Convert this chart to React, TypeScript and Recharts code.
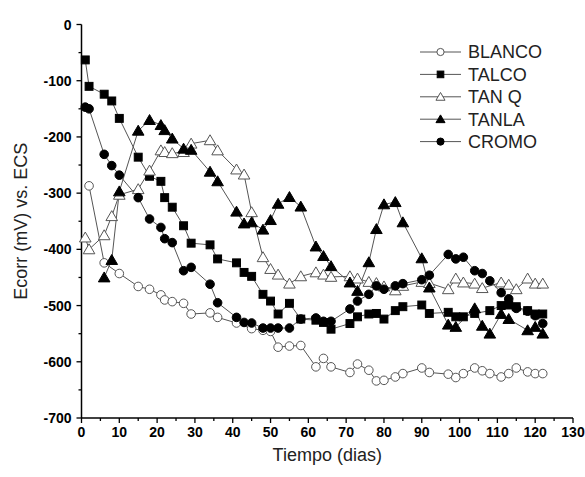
import { LineChart, Line, XAxis, YAxis, Legend } from 'recharts';

// dias de medida (comunes a todas las series)
const dias = [1, 2, 6, 8, 10, 15, 18, 21, 22, 24, 27, 29, 34, 36, 41, 43, 45, 48, 50, 52, 55, 58, 62, 64, 66, 71, 73, 76, 78, 80, 83, 85, 90, 92, 97, 99, 101, 104, 106, 108, 111, 113, 115, 118, 120, 122];

const blanco = [null, -287, -424, null, -443, -466, -471, -481, -490, -493, -496, -515, -513, -521, -531, null, -541, -544, -546, -574, -572, -571, -609, -594, -609, -619, -604, -615, -634, -633, -627, -621, -611, -619, -622, -628, -621, -611, -616, -621, -627, -621, -611, -618, -621, -621];
const talco = [-63, -110, -124, -136, -167, -236, -270, -279, -308, -325, -358, -389, -392, -417, -424, -441, -448, -480, -492, -515, -496, -524, -526, -530, -542, -532, -520, -515, -514, -524, -509, -502, -499, -514, -512, -520, -520, -514, null, -509, -500, -499, -502, -509, -515, -515];
const tanQ = [-379, -400, -375, -341, -303, -293, -260, -224, -227, -229, -227, -212, -206, -224, -258, -267, -334, -414, -435, -445, -461, -448, -441, -445, -449, -448, -452, -458, -460, -466, -473, -465, -458, -460, -471, -452, -459, -461, -469, null, -459, -463, -471, -452, -461, -461];
const tanla = [null, null, -450, -419, -297, -189, -170, -179, -188, -203, -221, -223, -262, -279, -333, -354, -352, -365, -348, -319, -307, -324, -395, -412, -430, -459, -474, -423, -364, -320, -316, -352, -416, -468, -534, -538, null, -505, -536, -550, -515, -524, null, -544, -538, -550];
const cromo = [-147, -150, -231, -251, -268, -308, -346, -361, -381, -388, -438, -432, -462, -495, -521, -530, -531, -540, -540, -540, -540, -524, -522, -528, -528, -506, -492, -480, -465, -471, -465, -461, -454, -446, -409, -417, -414, -438, -443, -456, -477, -488, -505, -510, -518, -532];

const ticksX = [0, 5, 10, 15, 20, 25, 30, 35, 40, 45, 50, 55, 60, 65, 70, 75, 80, 85, 90, 95, 100, 105, 110, 115, 120, 125, 130];
const ticksY = [0, -50, -100, -150, -200, -250, -300, -350, -400, -450, -500, -550, -600, -650, -700];

const datos = dias.map((d, i) => ({
  dia: d,
  blanco: blanco[i],
  talco: talco[i],
  tanQ: tanQ[i],
  tanla: tanla[i],
  cromo: cromo[i],
}));

const fuente = '"Liberation Sans", Arial, sans-serif';

type Forma = 'circulo' | 'cuadrado' | 'triangulo';

const series: { key: string; nombre: string; forma: Forma; relleno: boolean }[] = [
  { key: 'blanco', nombre: 'BLANCO', forma: 'circulo', relleno: false },
  { key: 'talco', nombre: 'TALCO', forma: 'cuadrado', relleno: true },
  { key: 'tanQ', nombre: 'TAN Q', forma: 'triangulo', relleno: false },
  { key: 'tanla', nombre: 'TANLA', forma: 'triangulo', relleno: true },
  { key: 'cromo', nombre: 'CROMO', forma: 'circulo', relleno: true },
];

const Marcador = ({ cx, cy, forma, relleno, r }: { cx: number; cy: number; forma: Forma; relleno: boolean; r: number }) => {
  const fill = relleno ? '#000' : '#fff';
  const stroke = relleno ? '#000' : '#555';
  if (forma === 'circulo') {
    return <circle cx={cx} cy={cy} r={r} fill={fill} stroke={stroke} strokeWidth={1} />;
  }
  if (forma === 'cuadrado') {
    const s = r * 0.92;
    return <rect x={cx - s} y={cy - s} width={2 * s} height={2 * s} fill={fill} stroke={stroke} strokeWidth={1} />;
  }
  const a = r * 1.2;
  const pts = `${cx},${cy - a} ${cx - a * 1.05},${cy + a * 0.8} ${cx + a * 1.05},${cy + a * 0.8}`;
  return <polygon points={pts} fill={fill} stroke={stroke} strokeWidth={1} />;
};

const TickX = ({ x, y, payload }: any) => {
  const mayor = payload.value % 10 === 0;
  return (
    <g>
      <line x1={x} y1={y} x2={x} y2={y + (mayor ? 5 : 3)} stroke="#000" strokeWidth={1.3} />
      {mayor && (
        <text x={x} y={y + 19} textAnchor="middle" fontSize={14} fontWeight="bold" fontFamily={fuente} fill="#000">
          {payload.value}
        </text>
      )}
    </g>
  );
};

const TickY = ({ x, y, payload }: any) => {
  const mayor = payload.value % 100 === 0;
  return (
    <g>
      <line x1={x} y1={y} x2={x - (mayor ? 5 : 3)} y2={y} stroke="#000" strokeWidth={1.3} />
      {mayor && (
        <text x={x - 10} y={y} dy="0.36em" textAnchor="end" fontSize={14} fontWeight="bold" fontFamily={fuente} fill="#000">
          {payload.value}
        </text>
      )}
    </g>
  );
};

const Leyenda = () => (
  <svg width={150} height={115}>
    {series.map((s, i) => {
      const y = 12 + i * 22.4;
      return (
        <g key={s.key}>
          <line x1={5} x2={46} y1={y} y2={y} stroke="#555" strokeWidth={1} />
          <Marcador cx={25.5} cy={y} forma={s.forma} relleno={s.relleno} r={3.6} />
          <text x={53} y={y} dy="0.36em" fontSize={18} fontFamily={fuente} fill="#222">
            {s.nombre}
          </text>
        </g>
      );
    })}
  </svg>
);

export default function App() {
  return (
    <div style={{ position: 'absolute', left: 0, top: 0, width: 585, height: 477, background: '#fff' }}>
      <LineChart width={585} height={477} data={datos} margin={{ top: 24.5, right: 12, bottom: 0, left: 0 }}>
        <XAxis
          dataKey="dia"
          type="number"
          domain={[0, 130]}
          ticks={ticksX}
          interval={0}
          height={59}
          tickSize={0}
          tickMargin={0}
          tickLine={false}
          tick={TickX}
          axisLine={{ stroke: '#000', strokeWidth: 1.5 }}
          label={{ value: 'Tiempo (dias)', position: 'insideBottom', offset: 16, fontSize: 18, fontFamily: fuente, fill: '#222' }}
        />
        <YAxis
          type="number"
          domain={[-700, 0]}
          ticks={ticksY}
          interval={0}
          width={81.5}
          tickSize={0}
          tickMargin={0}
          tickLine={false}
          tick={TickY}
          axisLine={{ stroke: '#000', strokeWidth: 1.5 }}
          label={{ value: 'Ecorr (mV) vs. ECS', angle: -90, position: 'insideLeft', offset: 21, textAnchor: 'middle', fontSize: 18, fontFamily: fuente, fill: '#222' }}
        />
        <Legend
          layout="vertical"
          align="center"
          verticalAlign="middle"
          wrapperStyle={{ left: 415, top: 40, width: 150 }}
          content={Leyenda}
        />
        {series.map((s) => (
          <Line
            key={s.key}
            dataKey={s.key}
            stroke="#555"
            strokeWidth={1}
            connectNulls
            isAnimationActive={false}
            activeDot={false}
            dot={(p: any) =>
              p.cx == null || p.cy == null || p.value == null ? (
                <g key={`${s.key}-${p.index}`} />
              ) : (
                <Marcador key={`${s.key}-${p.index}`} cx={p.cx} cy={p.cy} forma={s.forma} relleno={s.relleno} r={s.forma === 'triangulo' ? 4.6 : 4.3} />
              )
            }
          />
        ))}
      </LineChart>
    </div>
  );
}
